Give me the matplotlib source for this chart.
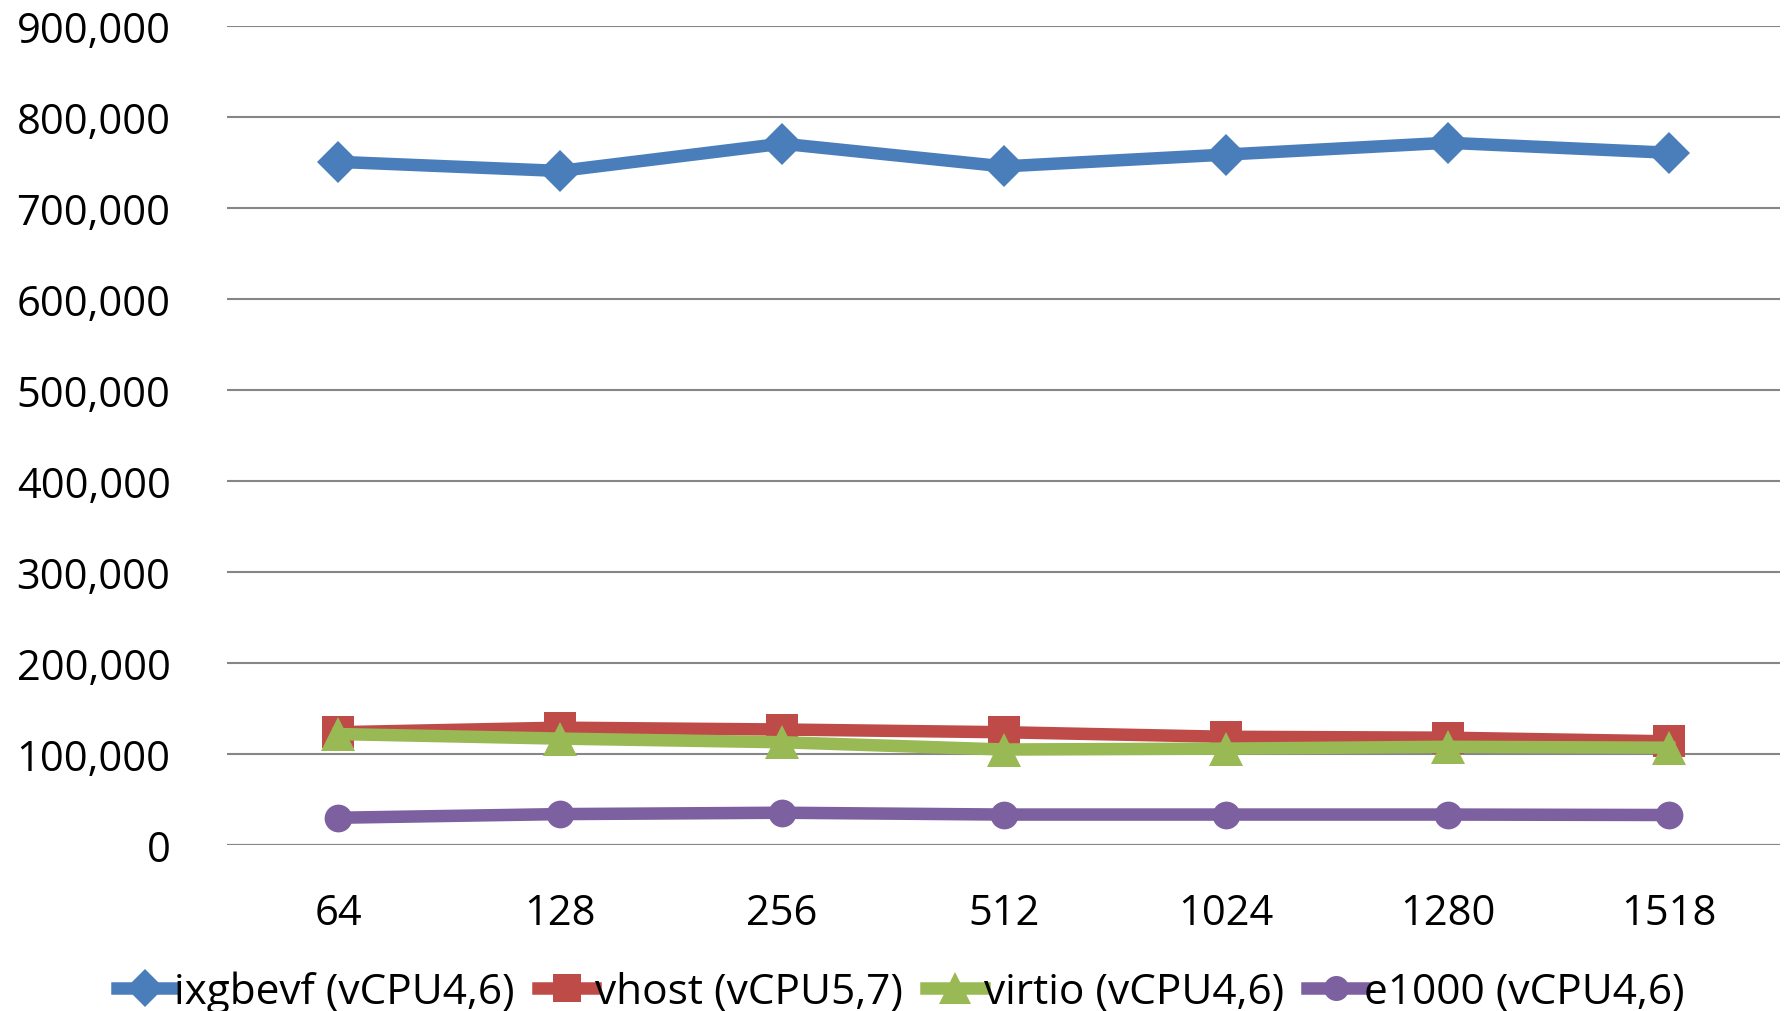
import matplotlib.pyplot as plt
from matplotlib.ticker import FuncFormatter

plt.rcParams['font.family'] = ['Open Sans', 'DejaVu Sans']

sizes = ["64", "128", "256", "512", "1024", "1280", "1518"]
ixgbevf = [751000, 741000, 771000, 746000, 759000, 772000, 761000]
vhost = [124000, 129000, 127000, 124000, 119000, 118000, 114000]
virtio = [122000, 117000, 113000, 105000, 106000, 108000, 107000]
e1000 = [30000, 34000, 35500, 33500, 33500, 33500, 33000]

labels = ["ixgbevf (vCPU4,6)", "vhost (vCPU5,7)", "virtio (vCPU4,6)", "e1000 (vCPU4,6)"]
colors = ["#4a7ebb", "#be4b48", "#98b954", "#7d60a0"]
markers = ["D", "s", "^", "o"]
msizes = [21, 23, 25, 20]

fig = plt.figure(figsize=(17.91, 10.12), dpi=100)
ax = fig.add_axes([0.127, 0.164, 0.867, 0.809])

x = list(range(len(sizes)))
for ys, lab, c, m, ms in zip([ixgbevf, vhost, virtio, e1000], labels, colors, markers, msizes):
    ax.plot(x, ys, color=c, linewidth=9, marker=m, markersize=ms,
            markeredgewidth=0, label=lab, solid_joinstyle="miter")

ax.set_xlim(-0.5, 6.5)
ax.set_ylim(0, 900000)
ax.set_yticks(range(0, 900001, 100000))
ax.yaxis.set_major_formatter(FuncFormatter(lambda v, p: "{:,}".format(int(v))))
ax.set_xticks(x, sizes)
ax.grid(axis="y", color="#868686", linewidth=1.5)
ax.set_axisbelow(True)
for s in ax.spines.values():
    s.set_visible(False)
ax.axhline(0, color="#868686", linewidth=1.5, zorder=0.5)
ax.tick_params(axis="y", length=0, pad=41, labelsize=30)
ax.tick_params(axis="x", length=0, pad=34, labelsize=30)

fig.legend(loc="center", bbox_to_anchor=(0.503, 0.019), ncol=4, frameon=False,
           fontsize=30.5, handlelength=1.35, handletextpad=0.0, columnspacing=0.55,
           borderpad=0, borderaxespad=0, markerscale=0.9)

fig.savefig("out.png", dpi=100, facecolor="white")
